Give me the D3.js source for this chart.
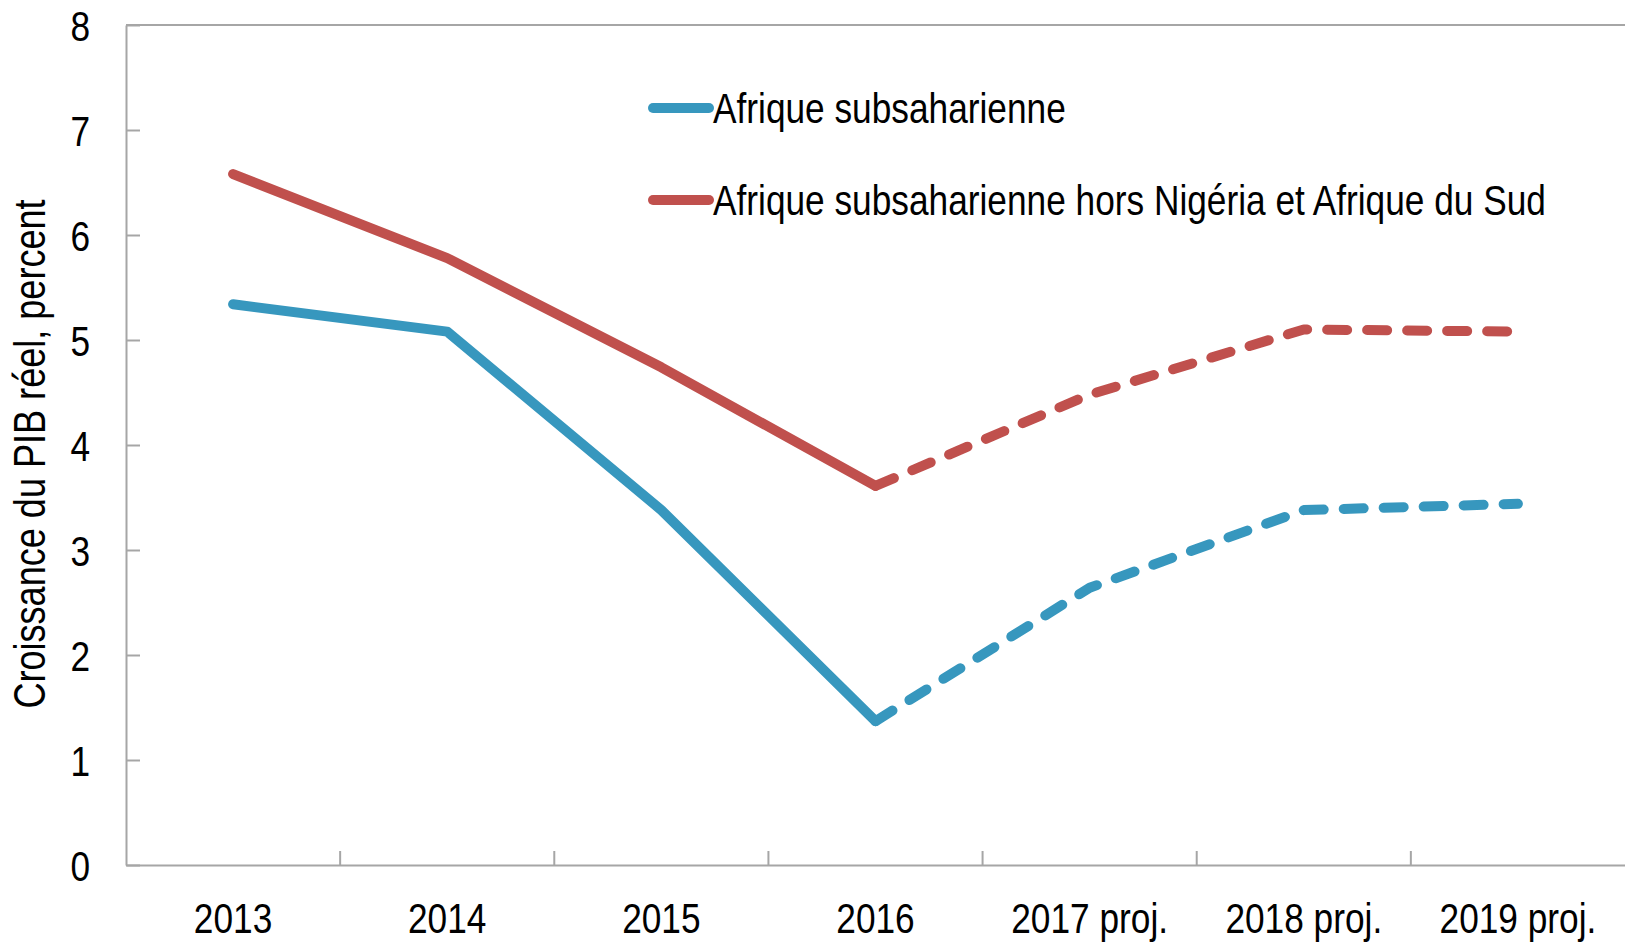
<!DOCTYPE html>
<html>
<head>
<meta charset="utf-8">
<script src="https://d3js.org/d3.v7.min.js"></script>
<style>
  body { margin: 0; background: #fff; }
  svg text { font-family: "Liberation Sans Narrow", "Arial Narrow", "Liberation Sans", Arial, sans-serif; fill: #000; }
  .axis .domain { stroke: #a6a6a6; stroke-width: 2px; }
  .axis line { stroke: #a6a6a6; stroke-width: 2px; }
</style>
</head>
<body>
<svg id="chart" width="1625" height="946"></svg>
<script>
  // data
  const categories = ["2013", "2014", "2015", "2016", "2017 proj.", "2018 proj.", "2019 proj."];
  const ssa = [5.34, 5.08, 3.38, 1.37, 2.64, 3.38, 3.44];
  const ssaExcl = [6.58, 5.78, 4.74, 3.61, 4.48, 5.10, 5.08];
  const yTicks = [0, 1, 2, 3, 4, 5, 6, 7, 8];
  const lastActual = 3; // 2016, after that the lines are projections

  const series = [
    { name: "Afrique subsaharienne", values: ssa, color: "#3797be" },
    { name: "Afrique subsaharienne hors Nigéria et Afrique du Sud", values: ssaExcl, color: "#c0504d" }
  ];

  // no narrow font installed, so squeeze the regular one horizontally
  const squeeze = 0.82;
  function narrow(sel) {
    sel.each(function () {
      const t = d3.select(this);
      const x = +t.attr("x") || 0, y = +t.attr("y") || 0;
      t.attr("x", 0).attr("y", 0)
        .attr("transform", `translate(${x},${y}) scale(${squeeze},1)`);
    });
  }

  const svg = d3.select("svg#chart");
  const margin = { top: 25, right: 0, bottom: 81, left: 126 };
  const width = +svg.attr("width");
  const height = +svg.attr("height");
  const chartWidth = width - margin.left - margin.right;
  const chartHeight = height - margin.top - margin.bottom;

  const xScale = d3.scaleBand().domain(categories).range([0, chartWidth]).padding(0);
  const yScale = d3.scaleLinear().domain([0, 8]).range([chartHeight, 0]);

  const chart = svg.append("g").attr("transform", `translate(${margin.left},${margin.top})`);

  // top frame line
  chart.append("line")
    .attr("x1", 0).attr("x2", chartWidth)
    .attr("y1", 0).attr("y2", 0)
    .attr("stroke", "#a6a6a6").attr("stroke-width", 2);

  // y axis, ticks pointing inward
  const leftAxis = d3.axisLeft(yScale).tickValues(yTicks).tickSizeInner(-14).tickSizeOuter(0).tickPadding(36);
  chart.append("g").attr("class", "axis y")
    .call(leftAxis)
    .call(g => g.selectAll("text").attr("font-size", 43).attr("dy", "0.35em").call(narrow));

  // x axis: labels at the band centres, ticks between bands
  const bottomAxis = d3.axisBottom(xScale).tickSize(0).tickPadding(37);
  const xAxis = chart.append("g").attr("class", "axis x")
    .attr("transform", `translate(0,${chartHeight})`)
    .call(bottomAxis)
    .call(g => g.selectAll("text").attr("font-size", 43).call(narrow));

  xAxis.selectAll("line.sep").data(categories.slice(1))
    .join("line").attr("class", "sep")
    .attr("x1", d => xScale(d)).attr("x2", d => xScale(d))
    .attr("y1", 0).attr("y2", -14);

  // y axis title
  svg.append("text")
    .attr("transform", `translate(45,454) rotate(-90) scale(${squeeze},1)`)
    .attr("text-anchor", "middle")
    .attr("font-size", 44)
    .text("Croissance du PIB réel, percent");

  const line = d3.line()
    .x(d => xScale(d.cat) + xScale.bandwidth() / 2)
    .y(d => yScale(d.v));

  series.forEach(s => {
    const pts = s.values.map((v, i) => ({ cat: categories[i], v: v }));
    chart.append("path")
      .attr("d", line(pts.slice(0, lastActual + 1)))
      .attr("fill", "none").attr("stroke", s.color)
      .attr("stroke-width", 10).attr("stroke-linejoin", "round").attr("stroke-linecap", "round");
    chart.append("path")
      .attr("d", line(pts.slice(lastActual)))
      .attr("fill", "none").attr("stroke", s.color)
      .attr("stroke-width", 10).attr("stroke-linejoin", "round").attr("stroke-linecap", "round")
      .attr("stroke-dasharray", "20,20");
  });

  // legend
  const legend = svg.append("g").attr("transform", "translate(653,108)");
  const items = legend.selectAll("g").data(series).join("g")
    .attr("transform", (d, i) => `translate(0,${i * 92})`);
  items.append("line")
    .attr("x1", 0).attr("x2", 56).attr("y1", 0).attr("y2", 0)
    .attr("stroke", d => d.color).attr("stroke-width", 10).attr("stroke-linecap", "round");
  items.append("text")
    .attr("x", 60).attr("y", 0).attr("dy", "0.35em")
    .attr("font-size", 43)
    .text(d => d.name)
    .call(narrow);
</script>
</body>
</html>
